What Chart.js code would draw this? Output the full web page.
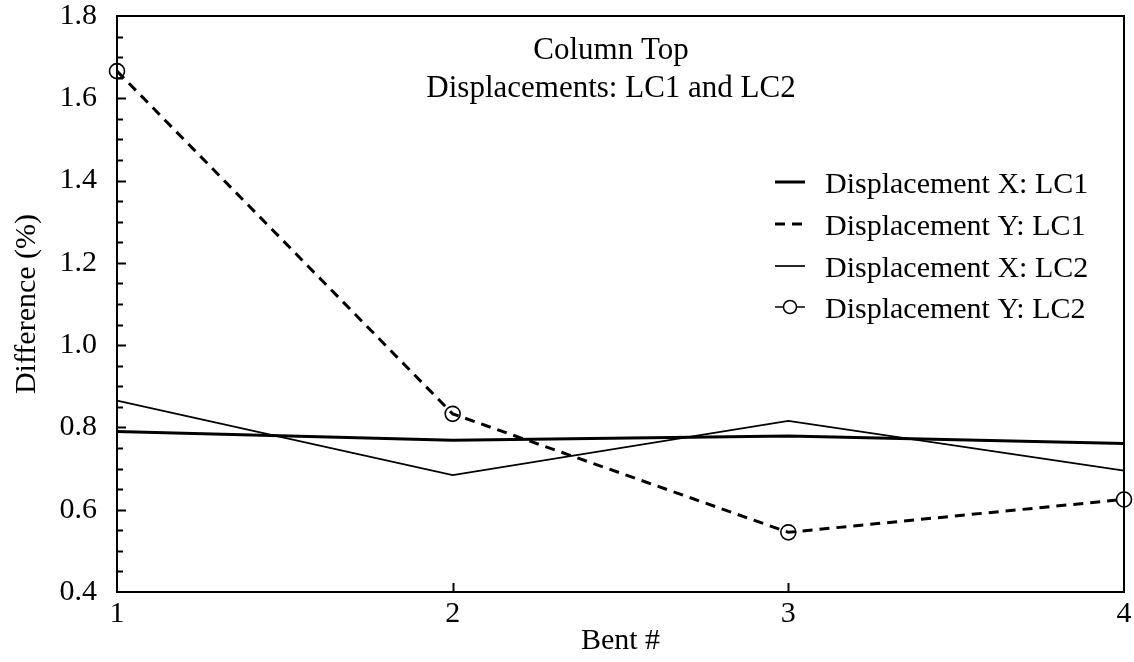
<!DOCTYPE html>
<html><head><meta charset="utf-8">
<script src="https://cdn.jsdelivr.net/npm/chart.js@4/dist/chart.umd.min.js"></script>
<style>html,body{margin:0;padding:0;background:#fff}#wrap{width:1134px;height:662px}</style>
</head><body><div id="wrap"><canvas id="c" width="1134" height="662"></canvas></div>
<script>
const bents = ['1', '2', '3', '4'];
const dispX_LC1 = [0.790, 0.769, 0.779, 0.761];
const dispY_LC1 = [1.666, 0.833, 0.545, 0.625];
const dispX_LC2 = [0.865, 0.684, 0.816, 0.695];
const dispY_LC2 = [1.666, 0.833, 0.545, 0.625];
const yMajorTicks = [0.4, 0.6, 0.8, 1.0, 1.2, 1.4, 1.6, 1.8];
const titleLines = ['Column Top', 'Displacements: LC1 and LC2'];
const seriesNames = ['Displacement X: LC1', 'Displacement Y: LC1', 'Displacement X: LC2', 'Displacement Y: LC2'];
const xTitle = 'Bent #';
const yTitle = 'Difference (%)';

const FONT = '"Liberation Serif", "Times New Roman", serif';

const framePlugin = {
  id: 'frame',
  beforeDatasetsDraw(chart) {
    const {ctx, chartArea: a, scales: {x, y}} = chart;
    ctx.save();
    ctx.strokeStyle = '#000';
    ctx.lineWidth = 2;
    ctx.strokeRect(a.left, a.top, a.right - a.left, a.bottom - a.top);
    const yMin = yMajorTicks[0], yMax = yMajorTicks[yMajorTicks.length - 1];
    const nMinor = Math.round((yMax - yMin) / 0.05);
    for (let i = 1; i < nMinor; i++) {
      const v = yMin + i * 0.05;
      const py = Math.round(y.getPixelForValue(v)) + 0.5;
      const len = (i % 4 === 0) ? 9 : 6;
      ctx.beginPath();
      ctx.moveTo(a.left, py);
      ctx.lineTo(a.left + len, py);
      ctx.stroke();
    }
    for (let i = 1; i < bents.length - 1; i++) {
      const px = Math.round(x.getPixelForValue(i)) + 0.5;
      ctx.beginPath();
      ctx.moveTo(px, a.bottom);
      ctx.lineTo(px, a.bottom - 9);
      ctx.stroke();
    }
    ctx.restore();
  },
  afterDraw(chart) {
    const {ctx} = chart;
    ctx.save();
    ctx.fillStyle = '#000';
    ctx.textAlign = 'center';
    ctx.textBaseline = 'alphabetic';
    ctx.font = '31px ' + FONT;
    ctx.fillText(titleLines[0], 611, 59);
    ctx.fillText(titleLines[1], 611, 97);
    const baselines = [193, 235, 277, 318];
    ctx.textAlign = 'left';
    ctx.font = '30px ' + FONT;
    for (let i = 0; i < seriesNames.length; i++) {
      const ly = baselines[i] - 11;
      ctx.strokeStyle = '#000';
      ctx.setLineDash([]);
      if (i === 0) { ctx.lineWidth = 3; ctx.beginPath(); ctx.moveTo(775, ly); ctx.lineTo(805, ly); ctx.stroke(); }
      if (i === 1) { ctx.lineWidth = 3; ctx.setLineDash([10, 7]); ctx.beginPath(); ctx.moveTo(775, ly); ctx.lineTo(805, ly); ctx.stroke(); ctx.setLineDash([]); }
      if (i === 2) { ctx.lineWidth = 1.7; ctx.beginPath(); ctx.moveTo(775, ly); ctx.lineTo(805, ly); ctx.stroke(); }
      if (i === 3) {
        ctx.lineWidth = 1.5;
        ctx.beginPath(); ctx.moveTo(775, ly); ctx.lineTo(805, ly); ctx.stroke();
        ctx.beginPath(); ctx.arc(790, ly, 6.5, 0, Math.PI * 2); ctx.fillStyle = '#fff'; ctx.fill(); ctx.stroke();
        ctx.fillStyle = '#000';
      }
      ctx.fillText(seriesNames[i], 825, baselines[i]);
    }
    ctx.restore();
  }
};

new Chart(document.getElementById('c'), {
  type: 'line',
  data: {
    labels: bents,
    datasets: [
      { label: seriesNames[0], data: dispX_LC1, borderColor: '#000', borderWidth: 3, pointRadius: 0, tension: 0, fill: false },
      { label: seriesNames[1], data: dispY_LC1, borderColor: '#000', borderWidth: 3, borderDash: [10, 7], pointRadius: 0, tension: 0, fill: false },
      { label: seriesNames[2], data: dispX_LC2, borderColor: '#000', borderWidth: 1.7, pointRadius: 0, tension: 0, fill: false },
      { label: seriesNames[3], data: dispY_LC2, showLine: false, borderColor: '#000', backgroundColor: 'rgba(0,0,0,0)', pointStyle: 'circle', pointRadius: 7.5, pointBorderWidth: 1.6, pointBorderColor: '#000', pointBackgroundColor: 'rgba(0,0,0,0)', clip: false }
    ]
  },
  options: {
    responsive: false,
    animation: false,
    layout: { padding: { left: 0, top: 16, right: 10, bottom: 0 } },
    plugins: { legend: { display: false }, tooltip: { enabled: false }, title: { display: false } },
    scales: {
      x: {
        type: 'category',
        offset: false,
        grid: { display: false, drawTicks: false },
        border: { display: false },
        ticks: { color: '#000', font: { family: FONT, size: 30 }, padding: 4, maxRotation: 0 },
        title: { display: true, text: xTitle, color: '#000', font: { family: FONT, size: 30 }, padding: { top: 0, bottom: 3 } },
        afterFit(scale) { scale.height = 70; scale.paddingLeft = 0; scale.paddingRight = 0; }
      },
      y: {
        min: 0.4, max: 1.8,
        grid: { display: false, drawTicks: false },
        border: { display: false },
        ticks: { stepSize: 0.2, color: '#000', font: { family: FONT, size: 30 }, padding: 20, callback: v => Number(v).toFixed(1) },
        title: { display: true, text: yTitle, color: '#000', font: { family: FONT, size: 30 }, padding: { top: 9, bottom: 0 } },
        afterFit(scale) { scale.width = 117; scale.paddingTop = 0; scale.paddingBottom = 0; }
      }
    }
  },
  plugins: [framePlugin]
});
</script>
</body></html>
